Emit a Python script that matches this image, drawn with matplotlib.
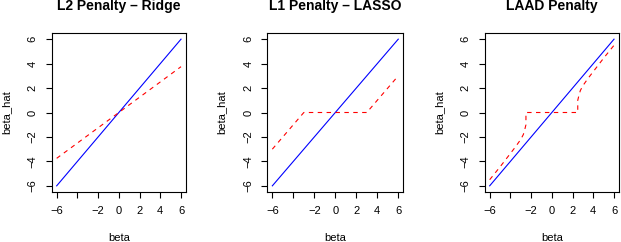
import matplotlib
matplotlib.use('Agg')
import matplotlib.pyplot as plt

plt.rcParams['font.family'] = ['Liberation Sans', 'DejaVu Sans']

# true beta vs estimated beta_hat
beta_line = [-6, 6]
hat_line = [-6, 6]

ridge_beta = [-6, 6]
ridge_hat = [-3.75, 3.75]

lasso_beta = [-6, -3, 3, 6]
lasso_hat = [-3, 0, 0, 3]

laad_beta = [-6, -5, -4, -3.5, -3, -2.75, -2.6, -2.5, -2.5, 2.5, 2.5, 2.6, 2.75, 3, 3.5, 4, 5, 6]
laad_hat = [-5.5, -4.45, -3.35, -2.8, -2.2, -1.8, -1.35, -1.0, 0, 0, 1.0, 1.35, 1.8, 2.2, 2.8, 3.35, 4.45, 5.5]

titles = ['L2 Penalty \u2013 Ridge', 'L1 Penalty \u2013 LASSO', 'LAAD Penalty']
ticks = [-6, -4, -2, 0, 2, 4, 6]
xticklabels = ['\u22126', '', '\u22122', '0', '2', '4', '6']
yticklabels = ['\u22126', '\u22124', '\u22122', '0', '2', '4', '6']

W, H = 621, 242
fig = plt.figure(figsize=(W / 100, H / 100), dpi=100)

# axes boxes in pixels: left, right, top, bottom
boxes = [(51.7, 186.0), (267.3, 403.3), (484.7, 619.0)]
top, bottom = 33.3, 191.7

curves = [(ridge_beta, ridge_hat), (lasso_beta, lasso_hat), (laad_beta, laad_hat)]

for (l, r), title, (xs, ys) in zip(boxes, titles, curves):
    ax = fig.add_axes([l / W, 1 - bottom / H, (r - l) / W, (bottom - top) / H])
    ax.plot(beta_line, hat_line, color='#0000FF', lw=0.8)
    ax.plot(xs, ys, color='#FF0000', lw=0.8, dashes=(4, 4))
    ax.set_xlim(-6.48, 6.48)
    ax.set_ylim(-6.48, 6.48)
    ax.set_xticks(ticks)
    ax.set_xticklabels(xticklabels)
    ax.set_yticks(ticks)
    ax.set_yticklabels(yticklabels, rotation=90, va='center')
    ax.tick_params(direction='out', length=4, width=0.8, labelsize=8, pad=6, color='black')
    for s in ax.spines.values():
        s.set_linewidth(0.8)
    ax.set_xlabel('beta', fontsize=8, va='center')
    ax.xaxis.set_label_coords(0.5, -0.29)
    ax.set_ylabel('beta_hat', fontsize=8, va='center')
    ax.yaxis.set_label_coords(-0.335, 0.5)
    ax.text(0.5, 1.17, title, transform=ax.transAxes, ha='center', va='center',
            fontsize=10, fontweight='bold')

fig.savefig('out.png', dpi=100)
